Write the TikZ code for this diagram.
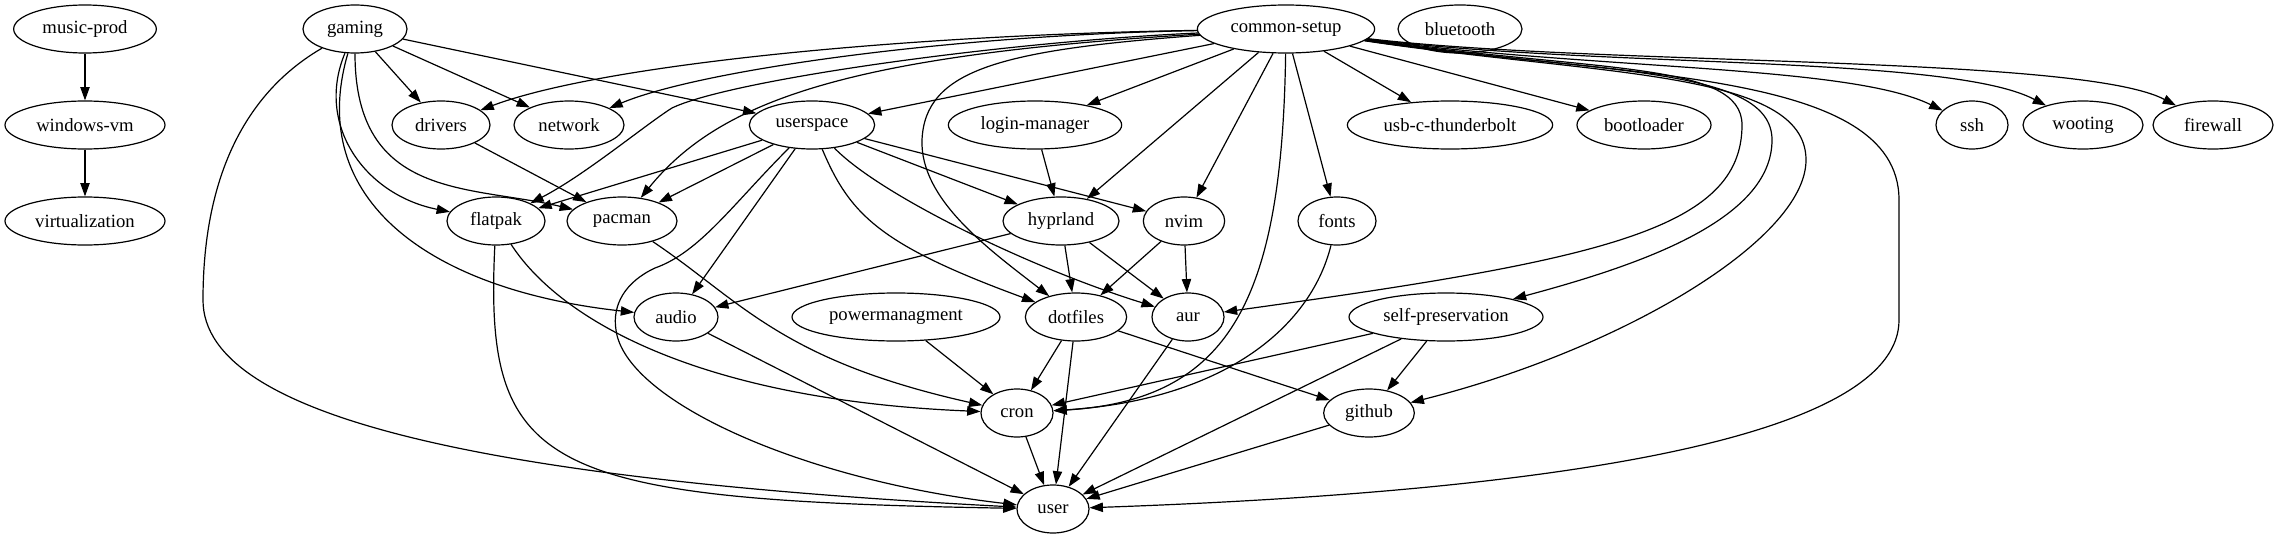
\documentclass[tikz,border=0pt]{standalone}
\usepackage{fontspec}
\setmainfont{Liberation Serif}
\usetikzlibrary{arrows.meta,shapes.geometric}

\begin{document}
\begin{tikzpicture}[x=0.75pt, y=-0.75pt, font=\fontsize{14pt}{16pt}\selectfont,
  mod/.style={draw, ellipse, line width=0.9pt, minimum height=36pt, minimum width=#1, inner sep=0pt},
  arr/.style={-{Triangle[length=10pt,width=7pt]}, line width=0.9pt}]
\useasboundingbox (0,0) rectangle (2278,539);
\node[mod=107pt] (musicprod) at (85,29) {music-prod};
\node[mod=78pt] (gaming) at (355,29) {gaming};
\node[mod=133pt] (common) at (1286,29) {common-setup};
\node[mod=93pt] (bluetooth) at (1460,29) {bluetooth};
\node[mod=120pt] (windowsvm) at (85,125) {windows-vm};
\node[mod=73.5pt] (drivers) at (441,125) {drivers};
\node[mod=82.5pt] (network) at (569,125) {network};
\node[mod=94pt] (userspace) at (812,125) {userspace};
\node[mod=130pt] (login) at (1035,125) {login-manager};
\node[mod=154pt] (usbc) at (1450,125) {usb-c-thunderbolt};
\node[mod=100.5pt] (bootloader) at (1644,125) {bootloader};
\node[mod=54pt] (ssh) at (1972,125) {ssh};
\node[mod=90pt] (wooting) at (2083,125) {wooting};
\node[mod=90pt] (firewall) at (2213,125) {firewall};
\node[mod=120pt] (virt) at (85,221) {virtualization};
\node[mod=73.5pt] (flatpak) at (496,221) {flatpak};
\node[mod=82.5pt] (pacman) at (622,221) {pacman};
\node[mod=87pt] (hyprland) at (1061,221) {hyprland};
\node[mod=61pt] (nvim) at (1184,221) {nvim};
\node[mod=58.5pt] (fonts) at (1337,221) {fonts};
\node[mod=63pt] (audio) at (676,317) {audio};
\node[mod=156pt] (power) at (896,317) {powermanagment};
\node[mod=76pt] (dotfiles) at (1076,317) {dotfiles};
\node[mod=54pt] (aur) at (1188,317) {aur};
\node[mod=145.5pt] (selfpres) at (1446,317) {self-preservation};
\node[mod=54pt] (cron) at (1017,413) {cron};
\node[mod=68pt] (github) at (1369,413) {github};
\node[mod=54pt] (user) at (1053,509) {user};
\draw[arr] (musicprod) -- (windowsvm); \draw[arr] (windowsvm) -- (virt);
\draw[arr] (gaming) -- (drivers); \draw[arr] (gaming) -- (network); \draw[arr] (gaming) -- (userspace);
\draw[arr] (gaming) .. controls (315,125) and (365,195) .. (flatpak);
\draw[arr] (gaming) .. controls (355,200) and (470,185) .. (pacman);
\draw[arr] (gaming) .. controls (305,200) and (430,290) .. (audio);
\draw[arr] (gaming) .. controls (250,90) and (203,170) .. (203,300) .. controls (203,420) and (500,480) .. (user);
\draw[arr] (drivers) -- (pacman);
\draw[arr] (common) .. controls (900,35) and (600,65) .. (drivers);
\draw[arr] (common) .. controls (950,35) and (700,70) .. (network);
\draw[arr] (common) .. controls (1000,42) and (730,80) .. (672,108) .. controls (645,125) and (585,175) .. (flatpak);
\draw[arr] (common) .. controls (850,55) and (720,100) .. (pacman);
\draw[arr] (common) -- (userspace);
\draw[arr] (common) .. controls (1000,50) and (925,70) .. (922,140) .. controls (920,200) and (990,250) .. (dotfiles);
\draw[arr] (common) -- (login); \draw[arr] (common) -- (hyprland); \draw[arr] (common) -- (nvim);
\draw[arr] (common) -- (fonts); \draw[arr] (common) -- (usbc); \draw[arr] (common) -- (bootloader);
\draw[arr] (common) .. controls (1282,300) and (1230,400) .. (cron);
\draw[arr] (common) .. controls (1600,70) and (1850,65) .. (ssh);
\draw[arr] (common) .. controls (1600,68) and (1950,55) .. (wooting);
\draw[arr] (common) .. controls (1600,66) and (2080,55) .. (firewall);
\draw[arr] (common) .. controls (1600,72) and (1742,62) .. (1742,125) .. controls (1742,230) and (1600,260) .. (aur);
\draw[arr] (common) .. controls (1600,74) and (1772,66) .. (1772,140) .. controls (1772,220) and (1640,265) .. (selfpres);
\draw[arr] (common) .. controls (1600,76) and (1806,70) .. (1806,160) .. controls (1806,240) and (1620,350) .. (github);
\draw[arr] (common) .. controls (1620,78) and (1899,68) .. (1899,200) -- (1899,320) .. controls (1899,430) and (1600,490) .. (user);
\draw[arr] (userspace) -- (flatpak); \draw[arr] (userspace) -- (pacman); \draw[arr] (userspace) -- (audio);
\draw[arr] (userspace) -- (hyprland); \draw[arr] (userspace) -- (nvim);
\draw[arr] (userspace) .. controls (850,215) and (880,245) .. (dotfiles);
\draw[arr] (userspace) .. controls (880,195) and (1030,268) .. (aur);
\draw[arr] (userspace) .. controls (732,205) and (700,252) .. (655,268) .. controls (625,282) and (612,305) .. (616,330) .. controls (625,400) and (800,480) .. (user);
\draw[arr] (login) -- (hyprland);
\draw[arr] (flatpak) .. controls (484,470) and (540,500) .. (user);
\draw[arr] (flatpak) .. controls (560,320) and (700,400) .. (cron);
\draw[arr] (pacman) .. controls (740,300) and (780,360) .. (cron);
\draw[arr] (hyprland) -- (audio); \draw[arr] (hyprland) -- (dotfiles); \draw[arr] (hyprland) -- (aur);
\draw[arr] (nvim) -- (dotfiles); \draw[arr] (nvim) -- (aur);
\draw[arr] (fonts) .. controls (1310,330) and (1220,400) .. (cron);
\draw[arr] (audio) -- (user); \draw[arr] (power) -- (cron);
\draw[arr] (dotfiles) -- (cron); \draw[arr] (dotfiles) -- (user); \draw[arr] (dotfiles) -- (github);
\draw[arr] (aur) -- (user);
\draw[arr] (selfpres) -- (cron); \draw[arr] (selfpres) -- (github); \draw[arr] (selfpres) -- (user);
\draw[arr] (cron) -- (user); \draw[arr] (github) -- (user);
\end{tikzpicture}
\end{document}
